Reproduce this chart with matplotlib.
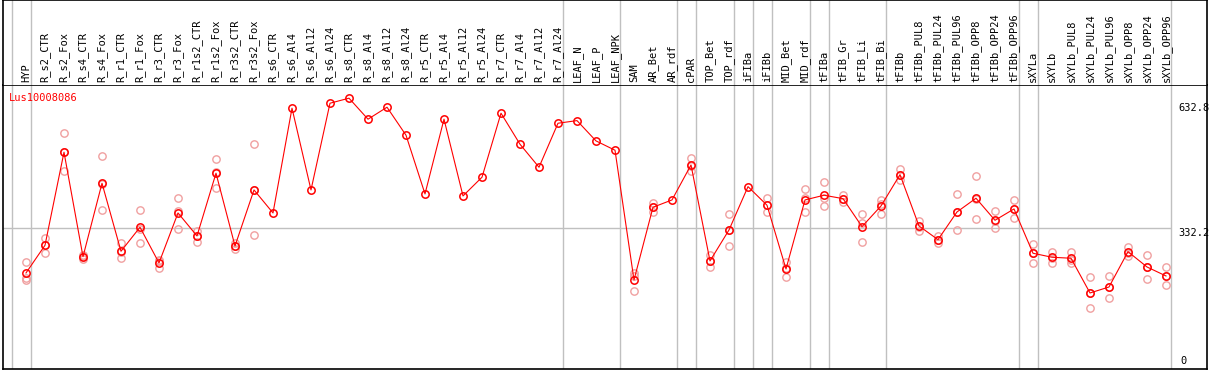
import numpy as np
import matplotlib
matplotlib.use("Agg")
import matplotlib.pyplot as plt

# Sample labels
samples = ["HYP", "R_s2_CTR", "R_s2_Fox", "R_s4_CTR", "R_s4_Fox", "R_r1_CTR", "R_r1_Fox",
           "R_r3_CTR", "R_r3_Fox", "R_r1s2_CTR", "R_r1s2_Fox", "R_r3s2_CTR", "R_r3s2_Fox",
           "R_s6_CTR", "R_s6_Al4", "R_s6_Al12", "R_s6_Al24", "R_s8_CTR", "R_s8_Al4", "R_s8_Al12",
           "R_s8_Al24", "R_r5_CTR", "R_r5_Al4", "R_r5_Al12", "R_r5_Al24", "R_r7_CTR", "R_r7_Al4",
           "R_r7_Al12", "R_r7_Al24", "LEAF_N", "LEAF_P", "LEAF_NPK", "SAM", "AR_Bet", "AR_rdf",
           "cPAR", "TOP_Bet", "TOP_rdf", "iFIBa", "iFIBb", "MID_Bet", "MID_rdf", "tFIBa",
           "tFIB_Gr", "tFIB_Li", "tFIB_Bi", "tFIBb", "tFIBb_PUL8", "tFIBb_PUL24", "tFIBb_PUL96",
           "tFIBb_OPP8", "tFIBb_OPP24", "tFIBb_OPP96", "sXYLa", "sXYLb", "sXYLb_PUL8",
           "sXYLb_PUL24", "sXYLb_PUL96", "sXYLb_OPP8", "sXYLb_OPP24", "sXYLb_OPP96"]

# Mean expression
means = [223.9, 290.5, 514.2, 263.1, 439.6, 276.1, 333.8, 248.0, 368.2, 312.9,
         463.7, 288.8, 423.5, 368.2, 620.0, 423.5, 632.0, 644.1, 593.6, 622.4,
         555.1, 413.9, 593.6, 409.1, 454.1, 608.0, 533.4, 478.1, 583.9, 590.2,
         541.4, 519.0, 207.1, 381.9, 399.5, 483.6, 252.8, 327.3, 431.5, 386.7,
         233.5, 399.5, 410.8, 402.6, 335.3, 385.0, 460.3, 336.9, 304.0, 370.6,
         403.6, 350.6, 377.8, 271.3, 261.7, 259.3, 175.8, 190.2, 275.1, 238.3,
         216.7]

# Replicates (None = no replicate shown)
N = None
rep_a = [250.4, 308.1, 559.9, 267.9, 504.6, 295.3, 375.5, 255.2, 403.6, 325.6,
         497.4, 296.8, 533.4, N, N, N, N, N, N, N,
         N, N, N, N, N, N, N, N, N, N,
         N, N, 224.6, 393.0, N, 500.5, 267.2, 365.1, N, 403.6,
         249.6, 425.2, 442.0, 410.8, 365.1, 399.5, 473.3, 349.7, 313.6, 413.2,
         456.5, 372.3, 399.5, 293.7, 275.1, 275.1, 213.6, 216.7, 287.2, 267.9,
         238.3]
rep_b = [212.6, 271.3, 468.5, 256.9, 375.5, 259.3, 295.3, 236.7, 329.0, 299.2,
         427.6, 280.9, 314.6, N, N, N, N, N, N, N,
         N, N, N, N, N, N, N, N, N, N,
         N, N, 180.6, 371.3, N, 469.2, 239.1, 288.8, N, 369.9,
         215.0, 369.9, 385.0, 395.4, 297.7, 365.1, 447.6, 325.6, 295.3, 327.3,
         353.1, 331.4, 355.5, 247.2, 248.7, 247.2, 139.0, 163.1, 265.5, 208.8,
         195.0]
rep_c = [207.1, 292.2, 514.2, 264.8, 438.9, 273.7, 330.7, 252.0, 372.1, 313.9,
         466.1, 288.8, 422.6, N, N, N, N, N, N, N,
         N, N, N, N, N, N, N, N, N, N,
         N, N, 216.0, 381.4, N, 481.2, 252.0, 328.0, N, 386.7,
         235.9, 403.3, 405.2, 401.9, 342.9, 390.6, 460.3, 335.5, 303.3, 371.3,
         401.0, 348.0, 378.5, 272.7, 260.9, 255.2, 174.8, 191.0, 272.7, 238.3,
         216.7]

# Group separators (after these sample indices)
groups_end = [-1, 0, 28, 31, 34, 35, 37, 38, 39, 41, 42, 45, 52, 53, 60]
gene = "Lus10008086"
ref_vals = [632.8, 332.2]

x = np.arange(len(samples))
W, H = 1209, 370
fig = plt.figure(figsize=(W / 100, H / 100), dpi=100)
mono = "DejaVu Sans Mono"

# plot area: pixel x 2.5..1207.3, y 85..369
xl = ((2.5 - 26) / 19, (1207.3 - 26) / 19)
ax = fig.add_axes([2.5 / W, (H - 369) / H, (1207.3 - 2.5) / W, (369 - 85) / H])
hx = fig.add_axes([2.5 / W, (H - 85) / H, (1207.3 - 2.5) / W, 85 / H], sharex=ax)
ax.set_xlim(*xl)
ax.set_ylim(-6.97, 675.8)
hx.set_ylim(0, 1)

for a in (ax, hx):
    a.set_xticks([])
    a.set_yticks([])
    for s in a.spines.values():
        s.set_color("black")
        s.set_linewidth(1.2)
    for g in groups_end:
        a.axvline(g + 0.25, color="#c0c0c0", lw=1, zorder=0)
hx.spines["bottom"].set_visible(False)

ax.hlines(ref_vals[1], xl[0], groups_end[-1] + 0.25, color="#c0c0c0", lw=1, zorder=0)

for r in (rep_a, rep_b, rep_c):
    rv = np.array([np.nan if v is None else v for v in r])
    ax.plot(x, rv, "o", ls="none", mfc="none", mec="#f0a0a0", ms=5.3, mew=1.0, zorder=2)

ax.plot(x, means, "-", color="red", lw=0.8, marker="o", mfc="none", mec="red",
        ms=5.3, mew=1.1, zorder=3)

ax.text(-0.88, 656.8, gene, color="red", fontsize=7.5, family=mono, ha="left", va="top")

lx = (1178 - 26) / 19
for v in ref_vals:
    ax.text(lx, v, f"{v}", fontsize=7.5, family=mono, ha="left", va="top", color="black")
ax.text((1180 - 26) / 19, 0, "0", fontsize=7.5, family=mono, ha="left", va="bottom")

for i, name in enumerate(samples):
    hx.text(i, 0.03, name, rotation=90, ha="center", va="bottom", fontsize=7.5, family=mono)

fig.savefig("out.png", dpi=100)
